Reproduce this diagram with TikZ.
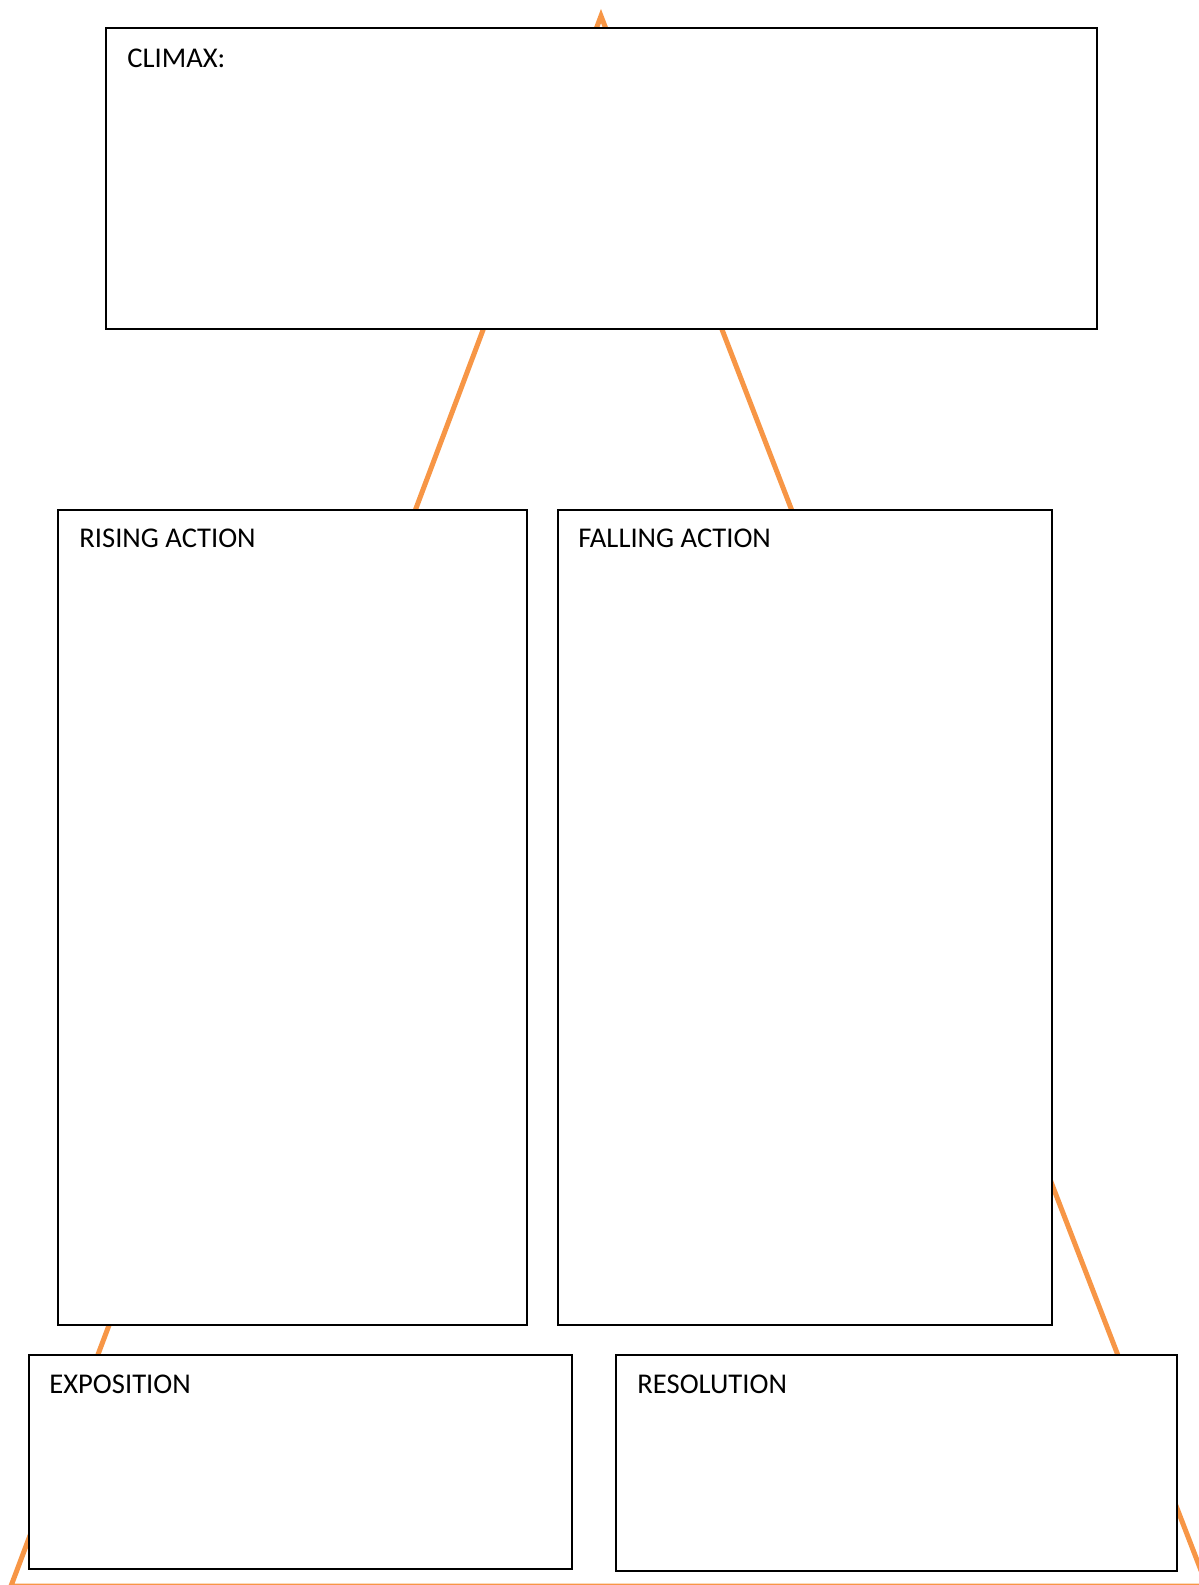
\documentclass[tikz,border=0pt]{standalone}
\usepackage{fontspec}
\setmainfont{Carlito}
\definecolor{plotorange}{HTML}{F79646}
\tikzset{
	plotline/.style={draw=plotorange, line width=2.5pt, line join=miter},
	stagebox/.style={draw=black, fill=white, line width=1pt},
	stagelabel/.style={anchor=base west, inner sep=0pt, font=\fontsize{14.3pt}{17pt}\selectfont}
}
\begin{document}
\begin{tikzpicture}[x=0.5pt,y=-0.5pt]

	\useasboundingbox (0,0) rectangle (1199,1585);
	\clip (0,0) rectangle (1199,1585);

	% plot triangle
	\coordinate (top) at (601,16);
	\coordinate (left) at (11,1586);
	\coordinate (right) at (1207,1586);

	\draw[plotline] (top) -- (right) -- (left) -- cycle;

	% boxes
	\coordinate (C1) at (106,28);
	\coordinate (C2) at (1097,329);
	\coordinate (R1) at (58,510);
	\coordinate (R2) at (527,1325);
	\coordinate (F1) at (558,510);
	\coordinate (F2) at (1052,1325);
	\coordinate (E1) at (29,1355);
	\coordinate (E2) at (572,1569);
	\coordinate (S1) at (616,1355);
	\coordinate (S2) at (1177,1571);

	\draw[stagebox] (C1) rectangle (C2);
	\draw[stagebox] (R1) rectangle (R2);
	\draw[stagebox] (F1) rectangle (F2);
	\draw[stagebox] (E1) rectangle (E2);
	\draw[stagebox] (S1) rectangle (S2);

	% labels
	\node[stagelabel] (climax) at (127,67) {CLIMAX:};
	\node[stagelabel] (rising) at (79,547) {RISING ACTION};
	\node[stagelabel] (falling) at (578,547) {FALLING ACTION};
	\node[stagelabel] (exposition) at (49,1393) {EXPOSITION};
	\node[stagelabel] (resolution) at (637,1393) {RESOLUTION};

\end{tikzpicture}
\end{document}
